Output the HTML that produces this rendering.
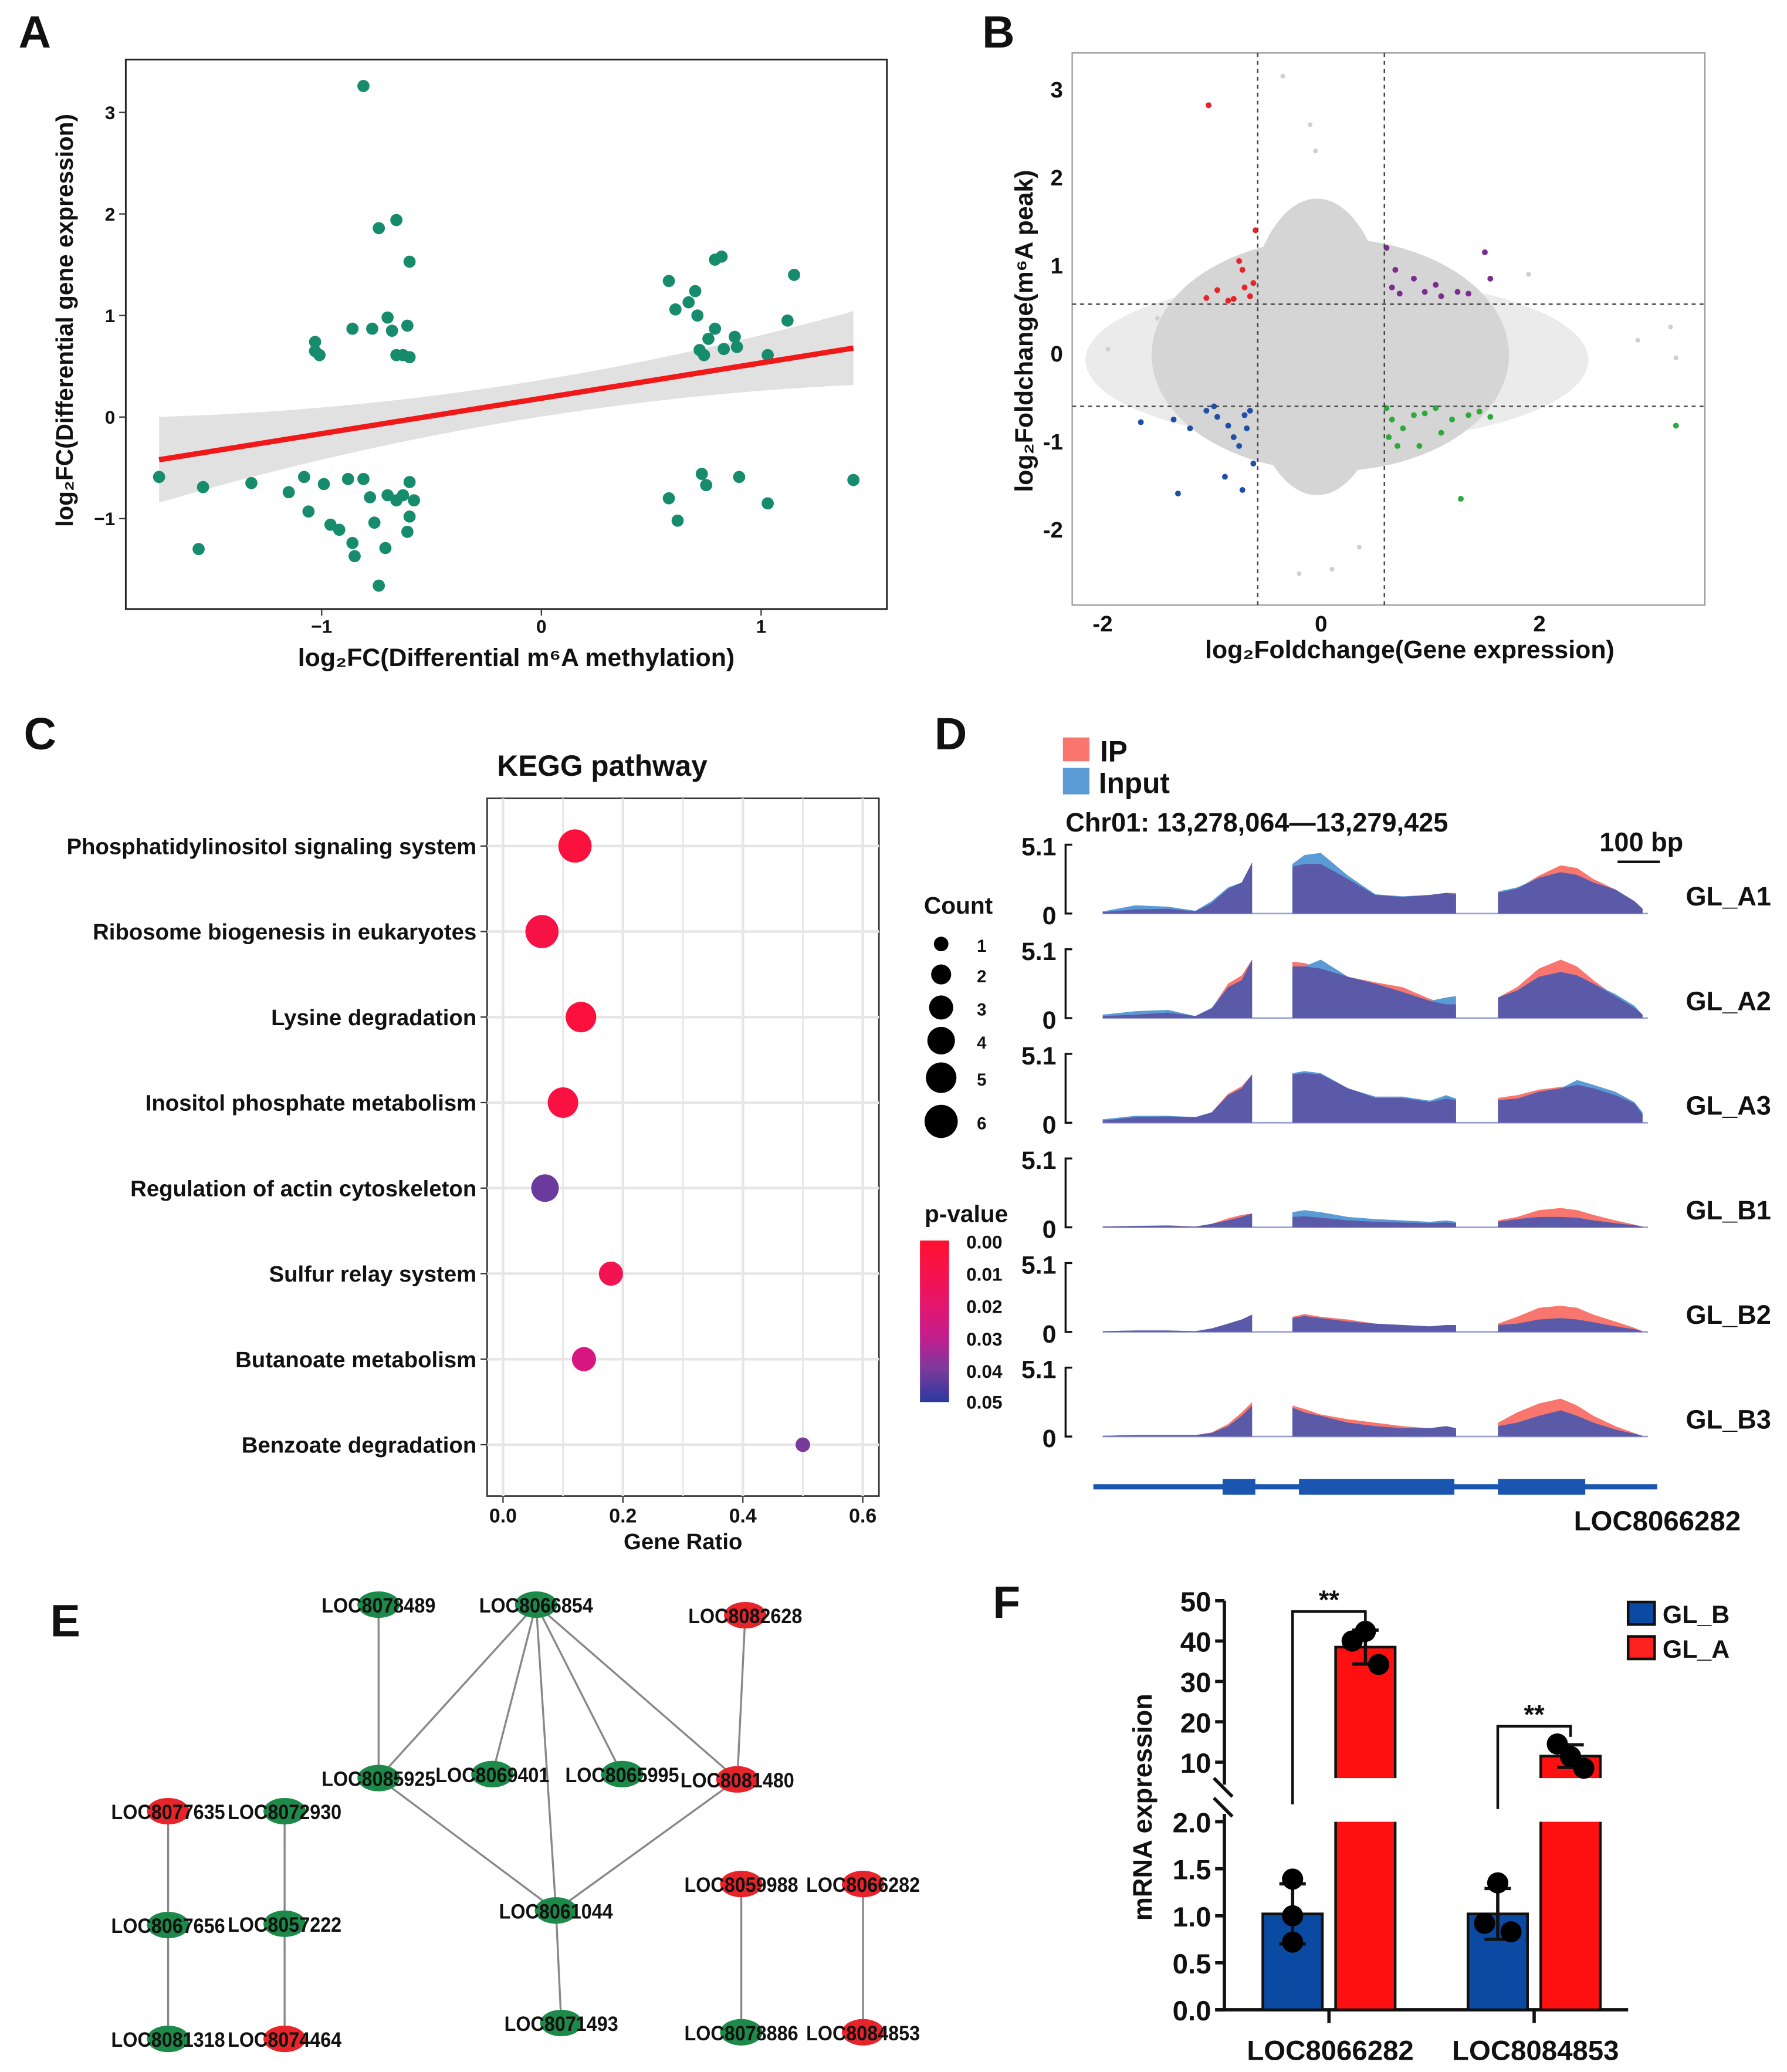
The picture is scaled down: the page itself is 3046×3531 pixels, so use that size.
<!DOCTYPE html>
<html><head><meta charset="utf-8">
<style>
html,body{margin:0;padding:0;background:#fff;}
svg{display:block;}
text{font-family:"Liberation Sans",sans-serif;font-weight:bold;fill:#111;}
</style></head>
<body>
<svg id="fig" xmlns="http://www.w3.org/2000/svg" width="3046" height="3531" viewBox="0 0 1350 1565">
<rect x="0" y="0" width="1350" height="1565" fill="#fff"/>
<text x="14" y="36" font-size="34">A</text>
<text x="742" y="36" font-size="34">B</text>
<text x="18" y="566" font-size="34">C</text>
<text x="706" y="566" font-size="34">D</text>
<text x="38" y="1236" font-size="34">E</text>
<text x="750" y="1222" font-size="34">F</text>
<text x="390" y="503" font-size="19" text-anchor="middle">log₂FC(Differential m⁶A methylation)</text>
<text transform="translate(55,242) rotate(-90)" font-size="18" text-anchor="middle">log₂FC(Differential gene expression)</text>
<text x="122" y="91" font-size="16">R= 0.29</text>
<text x="120" y="114" font-size="16">p= 0.014</text>
<text x="1065" y="497" font-size="19" text-anchor="middle">log₂Foldchange(Gene expression)</text>
<text transform="translate(780,250) rotate(-90)" font-size="19" text-anchor="middle">log₂Foldchange(m⁶A peak)</text>
<text x="890" y="116" font-size="17" text-anchor="middle">Hyper-down</text>
<text x="1150" y="116" font-size="17" text-anchor="middle">Hyper-up</text>
<text x="890" y="416" font-size="17" text-anchor="middle">Hypo-down</text>
<text x="1147" y="416" font-size="17" text-anchor="middle">Hypo-up</text>
<text x="455" y="586" font-size="22" text-anchor="middle">KEGG pathway</text>
<text x="516" y="1170" font-size="17" text-anchor="middle">Gene Ratio</text>
<text x="724" y="690" font-size="18" text-anchor="middle">Count</text>
<text x="730" y="923" font-size="18" text-anchor="middle">p-value</text>
<rect x="803" y="557" width="20" height="18" fill="#f8766d"/>
<text x="831" y="575" font-size="22">IP</text>
<rect x="803" y="580" width="20" height="20" fill="#5b9bd5"/>
<text x="830" y="599" font-size="22">Input</text>
<text x="805" y="628" font-size="20">Chr01: 13,278,064—13,279,425</text>
<text x="1240" y="643" font-size="20" text-anchor="middle">100 bp</text>
<line x1="1222" y1="651" x2="1254" y2="651" stroke="#111" stroke-width="2"/>
<text x="1252" y="1156" font-size="21" text-anchor="middle">LOC8066282</text>
<text transform="translate(870,1365) rotate(-90)" font-size="20" text-anchor="middle">mRNA expression</text>
<g id="gA"></g>
<g id="gB"></g>
<g id="gC"></g>
<g id="gD"></g>
<g id="gE"></g>
<g id="gF"></g>
</svg>
<script>
const aX=[-0.81,-0.74,-0.66,-0.60,-1.03,-1.01,-1.03,-0.86,-0.77,-0.70,-0.68,-0.61,-0.66,-0.63,-0.60,
-1.74,-1.56,-1.54,-1.32,-1.15,-1.08,-1.06,-0.99,-0.88,-0.81,-0.78,-0.70,-0.66,-0.63,-0.60,-0.58,-0.96,-0.92,-0.86,-0.85,-0.71,-0.61,-0.60,-0.76,-0.74,
0.58,0.67,0.70,0.71,0.79,0.82,0.88,0.72,0.74,0.79,0.83,0.89,1.03,1.12,1.15,0.61,0.76,
0.58,0.62,0.73,0.75,0.90,1.03,1.42];
const aY=[3.26,1.86,1.94,1.53,0.74,0.61,0.65,0.87,0.87,0.98,0.85,0.90,0.61,0.61,0.59,
-0.59,-1.30,-0.69,-0.65,-0.74,-0.59,-0.93,-0.66,-0.61,-0.61,-0.79,-0.77,-0.82,-0.77,-0.64,-0.82,-1.06,-1.11,-1.24,-1.37,-1.29,-1.13,-0.98,-1.04,-1.66,
1.34,1.13,1.24,1.00,1.55,1.58,0.79,0.66,0.61,0.87,0.67,0.69,0.61,0.95,1.40,1.06,0.77,
-0.80,-1.02,-0.56,-0.67,-0.59,-0.85,-0.62];
const aXTicks=[-1,0,1];
const aYTicks=[-1,0,1,2,3];
const aSlope=0.348, aIntercept=0.185;
const bXTicks=[-2,0,2];
const bYTicks=[-2,-1,0,1,2,3];
const redX=[-1.03,-0.95,-0.85,-0.75,-0.70,-0.65,-0.62,-0.80,-1.05,-0.60,-0.72];
const redY=[2.82,0.72,0.60,1.05,0.75,0.65,0.80,0.62,0.63,1.40,0.95];
const purpleX=[0.60,0.65,0.72,0.85,0.95,1.10,1.25,1.35,1.50,1.55,0.68,1.05];
const purpleY=[1.20,0.75,0.68,0.85,0.70,0.65,0.70,0.68,1.15,0.85,0.95,0.78];
const blueX=[-1.65,-1.35,-1.31,-1.05,-0.95,-0.85,-0.80,-0.70,-0.65,-0.62,-0.75,-0.88,-1.20,-0.68,-0.72,-0.98];
const blueY=[-0.78,-0.75,-1.59,-0.65,-0.72,-0.82,-0.95,-0.70,-0.65,-1.25,-1.05,-1.40,-0.85,-0.85,-1.55,-0.6];
const greenX=[0.60,0.65,0.75,0.85,0.95,1.05,1.20,1.35,1.45,1.55,0.70,0.90,1.10,1.28,3.25,0.62];
const greenY=[-0.62,-0.75,-0.85,-0.70,-0.68,-0.62,-0.75,-0.70,-0.66,-0.72,-1.05,-1.05,-0.90,-1.65,-0.82,-0.95];
const grayX=[-0.35,-0.1,3.25,3.2,2.9,-1.95,-0.2,0.1,1.9,-1.5,0.35,-0.05];
const grayY=[3.15,2.6,-0.05,0.3,0.15,0.05,-2.5,-2.45,0.9,0.4,-2.2,2.3];
const bThreshX=0.58, bThreshY=0.56;
const cCats=["Phosphatidylinositol signaling system","Ribosome biogenesis in eukaryotes","Lysine degradation","Inositol phosphate metabolism","Regulation of actin cytoskeleton","Sulfur relay system","Butanoate metabolism","Benzoate degradation"];
const cRatio=[0.12,0.065,0.13,0.10,0.07,0.18,0.135,0.50];
const cCount=[6,6,5,5,4,3,3,1];
const cP=[0.005,0.008,0.004,0.006,0.042,0.012,0.025,0.040];
const cXTicks=[0.0,0.2,0.4,0.6];
const cCountLegend=[1,2,3,4,5,6];
const cPTicks=[0.00,0.01,0.02,0.03,0.04,0.05];
const dTracks=["GL_A1","GL_A2","GL_A3","GL_B1","GL_B2","GL_B3"];
const dPos=[[0,0.06,0.12,0.17,0.2,0.23,0.255,0.274],[0.348,0.37,0.4,0.45,0.5,0.55,0.6,0.63,0.648],[0.725,0.76,0.8,0.84,0.87,0.9,0.94,0.975,0.99]];
const dInput=[
[[0.03,0.12,0.1,0.04,0.18,0.38,0.45,0.74],[0.72,0.85,0.88,0.55,0.28,0.25,0.27,0.3,0.28],[0.32,0.38,0.52,0.6,0.56,0.45,0.35,0.18,0.07]],
[[0.05,0.1,0.12,0.03,0.15,0.45,0.55,0.85],[0.75,0.75,0.85,0.6,0.5,0.38,0.25,0.3,0.32],[0.3,0.4,0.6,0.67,0.62,0.5,0.35,0.18,0.05]],
[[0.05,0.1,0.1,0.08,0.15,0.4,0.5,0.7],[0.72,0.75,0.72,0.5,0.38,0.38,0.32,0.4,0.35],[0.33,0.35,0.45,0.5,0.62,0.55,0.45,0.3,0.15]],
[[0.01,0.02,0.02,0.01,0.05,0.1,0.15,0.2],[0.22,0.25,0.22,0.15,0.12,0.1,0.08,0.1,0.08],[0.08,0.12,0.15,0.15,0.14,0.1,0.06,0.03,0.01]],
[[0.01,0.02,0.02,0.01,0.05,0.12,0.18,0.25],[0.2,0.23,0.2,0.15,0.12,0.1,0.08,0.1,0.1],[0.1,0.12,0.18,0.2,0.18,0.14,0.08,0.04,0.01]],
[[0.01,0.02,0.02,0.02,0.05,0.15,0.3,0.45],[0.42,0.35,0.3,0.2,0.15,0.12,0.12,0.15,0.12],[0.15,0.2,0.3,0.38,0.3,0.2,0.1,0.04,0.01]]];
const dIP=[
[[0.02,0.06,0.07,0.03,0.15,0.36,0.45,0.74],[0.68,0.72,0.72,0.5,0.27,0.24,0.27,0.3,0.3],[0.3,0.36,0.55,0.7,0.66,0.5,0.35,0.18,0.07]],
[[0.03,0.05,0.08,0.03,0.14,0.5,0.62,0.85],[0.82,0.8,0.72,0.6,0.52,0.45,0.28,0.2,0.2],[0.3,0.45,0.72,0.85,0.75,0.55,0.32,0.15,0.05]],
[[0.03,0.08,0.09,0.08,0.15,0.42,0.53,0.7],[0.7,0.72,0.7,0.5,0.36,0.36,0.3,0.35,0.33],[0.36,0.4,0.48,0.52,0.55,0.5,0.4,0.28,0.12]],
[[0.01,0.02,0.03,0.01,0.05,0.13,0.18,0.2],[0.15,0.16,0.14,0.1,0.08,0.07,0.06,0.07,0.06],[0.1,0.15,0.25,0.28,0.25,0.18,0.1,0.04,0.01]],
[[0.01,0.02,0.02,0.01,0.05,0.12,0.18,0.25],[0.22,0.26,0.22,0.18,0.12,0.1,0.08,0.1,0.1],[0.12,0.22,0.35,0.38,0.35,0.25,0.15,0.06,0.01]],
[[0.01,0.02,0.02,0.02,0.06,0.18,0.35,0.5],[0.45,0.4,0.32,0.25,0.2,0.15,0.12,0.15,0.12],[0.2,0.35,0.48,0.55,0.45,0.3,0.15,0.05,0.01]]];
const dExons=[[0.22,0.28],[0.36,0.645],[0.725,0.885]];
const eNodes=[["LOC8078489",286,1212,"g"],["LOC8066854",405,1212,"g"],["LOC8082628",563,1220,"r"],["LOC8085925",286,1343,"g"],["LOC8069401",372,1340,"g"],["LOC8065995",470,1340,"g"],["LOC8081480",557,1344,"r"],["LOC8077635",127,1368,"r"],["LOC8072930",215,1368,"g"],["LOC8067656",127,1454,"g"],["LOC8057222",215,1453,"g"],["LOC8061044",420,1443,"g"],["LOC8059988",560,1423,"r"],["LOC8066282",652,1423,"r"],["LOC8081318",127,1540,"g"],["LOC8074464",215,1540,"r"],["LOC8071493",424,1528,"g"],["LOC8078886",560,1535,"g"],["LOC8084853",652,1535,"r"]];
const eEdges=[["LOC8078489","LOC8085925"],["LOC8066854","LOC8085925"],["LOC8066854","LOC8069401"],["LOC8066854","LOC8065995"],["LOC8066854","LOC8081480"],["LOC8066854","LOC8061044"],["LOC8085925","LOC8061044"],["LOC8081480","LOC8061044"],["LOC8082628","LOC8081480"],["LOC8077635","LOC8067656"],["LOC8067656","LOC8081318"],["LOC8072930","LOC8057222"],["LOC8057222","LOC8074464"],["LOC8061044","LOC8071493"],["LOC8059988","LOC8078886"],["LOC8066282","LOC8084853"]];
const fGenes=["LOC8066282","LOC8084853"];
const fGLB=[1.02,1.02];
const fGLA=[38.5,11.5];
const fErrB=[0.32,0.27];
const fErrA=[4.2,2.8];
const fPtsB=[[1.39,1.0,0.72],[1.35,0.92,0.83]];
const fPtsA=[[40,42.4,34.2],[14.5,11.4,8.5]];
const fLowTicks=[0.0,0.5,1.0,1.5,2.0];
const fHighTicks=[10,20,30,40,50];

const NS='http://www.w3.org/2000/svg';
function mk(tag,attrs,parent){const e=document.createElementNS(NS,tag);for(const k in attrs)e.setAttribute(k,attrs[k]);parent.appendChild(e);return e;}
function tx(s,attrs,parent){const e=mk('text',attrs,parent);e.textContent=s;return e;}
const gA=document.getElementById('gA'),gB=document.getElementById('gB'),gC=document.getElementById('gC'),gD=document.getElementById('gD'),gE=document.getElementById('gE'),gF=document.getElementById('gF');

// Panel A
const axA=v=>409+166*v, ayA=v=>315-76.7*v;
let e;
e=mk('rect',{x:95,y:45,width:575,height:415,fill:'#fff',stroke:'#222','stroke-width':1.3},gA);


const bandTop=[],bandBot=[];
for(let i=0;i<=40;i++){const x=-1.74+i*(1.42+1.74)/40;const c=aIntercept+aSlope*x;const h=0.18+0.085*(x+0.05)*(x+0.05);bandTop.push(axA(x)+','+ayA(c+h));bandBot.unshift(axA(x)+','+ayA(c-h));}
e=mk('polygon',{points:bandTop.concat(bandBot).join(' '),fill:'#d9d9d9',opacity:0.8},gA);


aX.forEach((x,i)=>{const p=mk('circle',{cx:axA(x),cy:ayA(aY[i]),r:4.6,fill:'#168c6c'},gA);

});
e=mk('line',{x1:axA(-1.74),y1:ayA(aIntercept+aSlope*-1.74),x2:axA(1.42),y2:ayA(aIntercept+aSlope*1.42),stroke:'#f01818','stroke-width':4},gA);


aXTicks.forEach(v=>{const t=tx(v<0?'−'+Math.abs(v):String(v),{x:axA(v),y:478,'font-size':14,'text-anchor':'middle',fill:'#444'},gA);


const l=mk('line',{x1:axA(v),y1:460,x2:axA(v),y2:465,stroke:'#333'},gA);

});
aYTicks.forEach(v=>{const t=tx(v<0?'−'+Math.abs(v):String(v),{x:87,y:ayA(v)+5,'font-size':14,'text-anchor':'end',fill:'#444'},gA);


const l=mk('line',{x1:90,y1:ayA(v),x2:95,y2:ayA(v),stroke:'#333'},gA);

});

// Panel B
const axB=v=>998+82.5*v, ayB=v=>267-66.5*v;
e=mk('rect',{x:810,y:40,width:478,height:417,fill:'#fff',stroke:'#999','stroke-width':1},gB);


e=mk('ellipse',{cx:1010,cy:272,rx:190,ry:62,fill:'#e2e2e2',opacity:0.7},gB);


e=mk('ellipse',{cx:1005,cy:268,rx:135,ry:88,fill:'#d5d5d5'},gB);


e=mk('ellipse',{cx:995,cy:262,rx:55,ry:112,fill:'#d5d5d5'},gB);


grayX.forEach((x,i)=>{const p=mk('circle',{cx:axB(x),cy:ayB(grayY[i]),r:1.8,fill:'#cfcfcf'},gB);

});
[[redX,redY,'#e8242b','hyper-down-point'],[purpleX,purpleY,'#7b2d8e','hyper-up-point'],[blueX,blueY,'#1f4fa8','hypo-down-point'],[greenX,greenY,'#2eaa3c','hypo-up-point']].forEach(s=>{
s[0].forEach((x,i)=>{const p=mk('circle',{cx:axB(x),cy:ayB(s[1][i]),r:2.2,fill:s[2]},gB);

});});
[[axB(-bThreshX),40,axB(-bThreshX),457],[axB(bThreshX),40,axB(bThreshX),457],[810,ayB(bThreshY),1288,ayB(bThreshY)],[810,ayB(-bThreshY-0.04),1288,ayB(-bThreshY-0.04)]].forEach(c=>{
const l=mk('line',{x1:c[0],y1:c[1],x2:c[2],y2:c[3],stroke:'#444','stroke-width':1.1,'stroke-dasharray':'3,3'},gB);

});
bXTicks.forEach(v=>{const t=tx(v<0?'-'+Math.abs(v):String(v),{x:axB(v),y:477,'font-size':17,'text-anchor':'middle'},gB);

});
bYTicks.forEach(v=>{const t=tx(v<0?'-'+Math.abs(v):String(v),{x:803,y:ayB(v)+6,'font-size':17,'text-anchor':'end'},gB);

});

// Panel C
const axC=v=>380+453*v, ayC=i=>639+64.6*i;
e=mk('rect',{x:368,y:603,width:296,height:527,fill:'#fff',stroke:'#333','stroke-width':1.2},gC);


for(let k=0;k<=6;k++){const l=mk('line',{x1:axC(k/10),y1:603,x2:axC(k/10),y2:1130,stroke:'#e6e6e6','stroke-width':k%2?1.2:2},gC);

}
function pColor(p){const st=[[0,[255,16,48]],[0.015,[240,20,90]],[0.028,[210,24,140]],[0.04,[122,58,156]],[0.05,[43,58,158]]];
for(let i=0;i<st.length-1;i++){if(p<=st[i+1][0]){const f=(p-st[i][0])/(st[i+1][0]-st[i][0]);const c=st[i][1].map((v,j)=>Math.round(v+f*(st[i+1][1][j]-v)));return 'rgb('+c.join(',')+')';}}return 'rgb(43,58,158)';}
const rC=c=>5.5*Math.pow(c,0.46);
cCats.forEach((c,i)=>{const l=mk('line',{x1:368,y1:ayC(i),x2:664,y2:ayC(i),stroke:'#e6e6e6','stroke-width':2},gC);


const t=tx(c,{x:360,y:ayC(i)+6,'font-size':17,'text-anchor':'end'},gC);


const k=mk('line',{x1:363,y1:ayC(i),x2:368,y2:ayC(i),stroke:'#333'},gC);

});
cCats.forEach((c,i)=>{const p=mk('circle',{cx:axC(cRatio[i]),cy:ayC(i),r:rC(cCount[i]),fill:pColor(cP[i])},gC);

});
cXTicks.forEach(v=>{const t=tx(v.toFixed(1),{x:axC(v),y:1150,'font-size':15,'text-anchor':'middle'},gC);


const k=mk('line',{x1:axC(v),y1:1130,x2:axC(v),y2:1135,stroke:'#333'},gC);

});
cCountLegend.forEach((c,i)=>{const r=rC(c);const y=[717,740,765,790,818,851][i];
const p=mk('circle',{cx:711,cy:y-4,r:r,fill:'#000'},gC);


const t=tx(String(c),{x:738,y:y+2,'font-size':13},gC);

});
const defs=mk('defs',{},gC);
const lg=mk('linearGradient',{id:'pgrad',x1:0,y1:0,x2:0,y2:1},defs);
[0,0.01,0.02,0.03,0.04,0.05].forEach(p=>{mk('stop',{offset:(p/0.05*100)+'%','stop-color':pColor(p)},lg);});
e=mk('rect',{x:695,y:937,width:22,height:122,fill:'url(#pgrad)'},gC);


cPTicks.forEach(v=>{const y=937+122*v/0.05;const t=tx(v.toFixed(2),{x:730,y:Math.min(Math.max(y+6,943),1064),'font-size':14},gC);

});

// Panel D
const dX0=833,dW=412,dH=52;
const dx=p=>dX0+dW*p;
dTracks.forEach((name,ti)=>{const base=690+79*ti, top=base-dH;
const ax=mk('path',{d:`M810,${top} L805,${top} L805,${base} L810,${base}`,fill:'none',stroke:'#111','stroke-width':1.5},gD);


const t1=tx('5.1',{x:798,y:top+8,'font-size':19,'text-anchor':'end'},gD);


const t0=tx('0',{x:798,y:base+8,'font-size':19,'text-anchor':'end'},gD);


const bl=mk('line',{x1:dX0,y1:base,x2:dX0+dW,y2:base,stroke:'#9aa0d0','stroke-width':1.2},gD);


const tn=tx(name,{x:1338,y:base-6,'font-size':20,'text-anchor':'end'},gD);


dPos.forEach((pos,si)=>{
const poly=vals=>{let pts=[dx(pos[0])+','+base];pos.forEach((p,k)=>{pts.push(dx(p)+','+(base-dH*vals[k]));});pts.push(dx(pos[pos.length-1])+','+base);return pts.join(' ');};
const ipv=dIP[ti][si], inv=dInput[ti][si], mn=ipv.map((v,k)=>Math.min(v,inv[k]));
const a=mk('polygon',{points:poly(ipv),fill:'#f8766d'},gD);


const b=mk('polygon',{points:poly(inv),fill:'#5b9bd5'},gD);


const c=mk('polygon',{points:poly(mn),fill:'#5a5aa8'},gD);

});});
e=mk('line',{x1:826,y1:1123,x2:1252,y2:1123,stroke:'#1a56b0','stroke-width':4},gD);


dExons.forEach(ex=>{const r=mk('rect',{x:dx(ex[0]),y:1117,width:dx(ex[1])-dx(ex[0]),height:12,fill:'#1a56b0'},gD);

});

// Panel E
const nodeMap={};eNodes.forEach(n=>nodeMap[n[0]]=n);
eEdges.forEach(ed=>{const a=nodeMap[ed[0]],b=nodeMap[ed[1]];const l=mk('line',{x1:a[1],y1:a[2],x2:b[1],y2:b[2],stroke:'#888','stroke-width':1.5},gE);

});
eNodes.forEach(n=>{const c=mk('ellipse',{cx:n[1],cy:n[2],rx:16,ry:10,fill:n[3]==='g'?'#1e8a4a':'#e8242b'},gE);


const t=tx(n[0],{x:n[1],y:n[2]+6,'font-size':15.5,'text-anchor':'middle',textLength:86,lengthAdjust:'spacingAndGlyphs'},gE);

});

// Panel F
const fyF=v=>v<=2.2?1518-71*v:1331-3.05*(v-10);
const fAxX=925;
e=mk('line',{x1:fAxX,y1:1209,x2:fAxX,y2:1348,stroke:'#111','stroke-width':2.5},gF);


e=mk('line',{x1:fAxX,y1:1370,x2:fAxX,y2:1518,stroke:'#111','stroke-width':2.5},gF);


e=mk('path',{d:'M917,1358 L931,1372 M917,1343 L931,1357',stroke:'#111','stroke-width':2.5,fill:'none'},gF);


e=mk('line',{x1:918,y1:1518,x2:1230,y2:1518,stroke:'#111','stroke-width':2.5},gF);


fLowTicks.concat(fHighTicks).forEach(v=>{const y=fyF(v);
const k=mk('line',{x1:fAxX-7,y1:y,x2:fAxX,y2:y,stroke:'#111','stroke-width':2.5},gF);


const t=tx(v<=2.2?v.toFixed(1):String(v),{x:fAxX-10,y:y+8,'font-size':21,'text-anchor':'end'},gF);

});
fGenes.forEach((g,i)=>{const cx=1004+155*i;const bx=cx-50, ax2=cx+5;
const k=mk('line',{x1:cx,y1:1518,x2:cx,y2:1528,stroke:'#111','stroke-width':2.5},gF);


const t=tx(g,{x:cx+1,y:1556,'font-size':21,'text-anchor':'middle'},gF);


const rb=mk('rect',{x:bx,y:fyF(fGLB[i]),width:45,height:1518-fyF(fGLB[i]),fill:'#0b4aa2',stroke:'#111','stroke-width':2},gF);


const ra=mk('rect',{x:ax2,y:fyF(fGLA[i]),width:45,height:1518-fyF(fGLA[i]),fill:'#ff1010',stroke:'#111','stroke-width':2},gF);


const gap=mk('rect',{x:ax2-2,y:1343,width:49,height:33,fill:'#fff'},gF);


const eb=[[bx+22.5,fGLB[i],fErrB[i]],[ax2+22.5,fGLA[i],fErrA[i]]];
eb.forEach(q=>{const p=mk('path',{d:`M${q[0]},${fyF(q[1]-q[2])} L${q[0]},${fyF(q[1]+q[2])} M${q[0]-10},${fyF(q[1]-q[2])} L${q[0]+10},${fyF(q[1]-q[2])} M${q[0]-10},${fyF(q[1]+q[2])} L${q[0]+10},${fyF(q[1]+q[2])}`,stroke:'#111','stroke-width':2.5,fill:'none'},gF);

});
fPtsB[i].forEach((v,j)=>{const c=mk('circle',{cx:bx+22.5+(i===1?[0,-10,10][j]:0),cy:fyF(v),r:8,fill:'#000'},gF);

});
fPtsA[i].forEach((v,j)=>{const c=mk('circle',{cx:ax2+22.5+[-10,0,10][j],cy:fyF(v),r:8,fill:'#000'},gF);

});
const topA=fyF(fGLA[i]+fErrA[i])-14;
const br=mk('path',{d:`M${bx+22.5},${fyF(fGLB[i]+fErrB[i])-60} L${bx+22.5},${topA} L${ax2+22.5},${topA} L${ax2+22.5},${topA+8}`,stroke:'#111','stroke-width':2,fill:'none'},gF);


const st=tx('**',{x:(bx+ax2+45)/2,y:topA-2,'font-size':20,'text-anchor':'middle'},gF);

});
[['GL_B','#0b4aa2',1210],['GL_A','#ff2020',1236]].forEach(l=>{
const r=mk('rect',{x:1230,y:l[2],width:20,height:17,fill:l[1],stroke:'#111','stroke-width':2},gF);


const t=tx(l[0],{x:1256,y:l[2]+16,'font-size':19},gF);

});
</script>
</body></html>
